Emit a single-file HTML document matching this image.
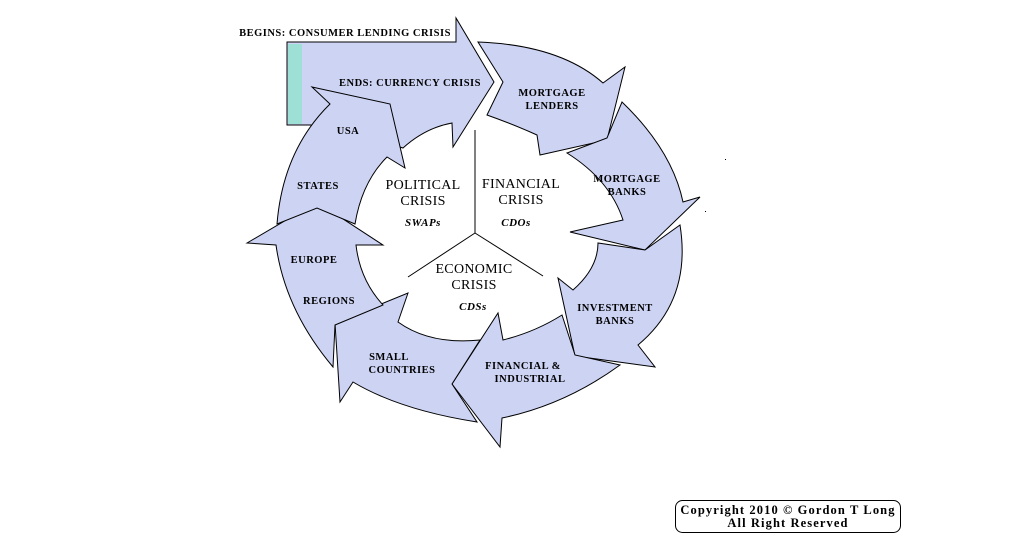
<!DOCTYPE html>
<html><head><meta charset="utf-8"><style>
html,body{margin:0;padding:0;background:#fff;}
svg{display:block;}
.l{font-family:"Liberation Serif",serif;font-weight:bold;font-size:10.5px;letter-spacing:0.5px;fill:#000;text-anchor:middle;}
.t{font-family:"Liberation Serif",serif;font-size:14px;letter-spacing:0.3px;fill:#000;text-anchor:middle;}
.i{font-family:"Liberation Serif",serif;font-style:italic;font-weight:bold;font-size:11px;letter-spacing:0.5px;fill:#000;text-anchor:middle;}
.c{font-family:"Liberation Serif",serif;font-weight:bold;font-size:12.5px;letter-spacing:1.1px;fill:#000;text-anchor:middle;}
</style></head><body>
<svg width="1014" height="547" viewBox="0 0 1014 547" xmlns="http://www.w3.org/2000/svg">
<g fill="#cdd3f3" stroke="#000" stroke-width="1">
<path d="M287,42 L456,42 L456,18 L494,82 L453,147 L452,123 Q425,128 403,148 L330,125 L287,125 Z"/>
<rect x="288" y="44" width="14" height="80" fill="#9fe0d6" stroke="none"/>
<path d="M478,42 Q560,45 603,83 L625,67 L607,140 L540,155 L537,135 Q515,125 487,115 L503,82 Z"/>
<path d="M622,102 Q672,150 683,202 L700,197 L645,250 L570,232 L623,220 Q610,180 567,153 L607,138 Z"/>
<path d="M680,225 Q692,300 638,345 L655,367 L575,356 L558,278 L573,290 Q598,268 598,243 L645,250 Z"/>
<path d="M452,384 L498,313 L503,340 Q535,332 562,315 L575,355 L620,365 Q565,405 502,418 L500,447 Z"/>
<path d="M408,293 L398,322 Q430,345 480,340 L452,384 L477,422 Q400,410 353,382 L340,402 L335,323 Z"/>
<path d="M247,243 L317,202 L383,245 L356,245 Q360,280 383,305 L335,325 L333,367 Q285,310 276,245 Z"/>
<path d="M277,224 Q283,150 330,104 L312,87 L390,104 L405,168 L387,157 Q362,182 355,224 L317,208 Z"/>
</g>
<g stroke="#000" stroke-width="1">
<line x1="475" y1="130" x2="475" y2="233"/>
<line x1="475" y1="233" x2="408" y2="277"/>
<line x1="475" y1="233" x2="543" y2="276"/>
</g>
<text class="l" x="345" y="36">BEGINS: CONSUMER LENDING CRISIS</text>
<text class="l" x="410" y="86">ENDS: CURRENCY CRISIS</text>
<text class="l" x="552" y="96">MORTGAGE</text>
<text class="l" x="552" y="109">LENDERS</text>
<text class="l" x="627" y="182">MORTGAGE</text>
<text class="l" x="627" y="195">BANKS</text>
<text class="l" x="615" y="311">INVESTMENT</text>
<text class="l" x="615" y="324">BANKS</text>
<text class="l" x="523" y="369">FINANCIAL &amp;</text>
<text class="l" x="530" y="382">INDUSTRIAL</text>
<text class="l" x="389" y="360">SMALL</text>
<text class="l" x="402" y="373">COUNTRIES</text>
<text class="l" x="329" y="304">REGIONS</text>
<text class="l" x="314" y="263">EUROPE</text>
<text class="l" x="318" y="189">STATES</text>
<text class="l" x="348" y="134">USA</text>
<text class="t" x="423" y="189">POLITICAL</text>
<text class="t" x="423" y="205">CRISIS</text>
<text class="i" x="423" y="226">SWAPs</text>
<text class="t" x="521" y="188">FINANCIAL</text>
<text class="t" x="521" y="204">CRISIS</text>
<text class="i" x="516" y="226">CDOs</text>
<text class="t" x="474" y="273">ECONOMIC</text>
<text class="t" x="474" y="289">CRISIS</text>
<text class="i" x="473" y="310">CDSs</text>
<rect x="675.5" y="500.5" width="225" height="32" rx="7" fill="#fff" stroke="#000"/>
<text class="c" x="788" y="514">Copyright 2010 © Gordon T Long</text>
<text class="c" x="788" y="527">All Right Reserved</text>
<rect x="725" y="159" width="1" height="1" fill="#000"/>
<rect x="705" y="211" width="1" height="1" fill="#000"/>
</svg>
</body></html>
